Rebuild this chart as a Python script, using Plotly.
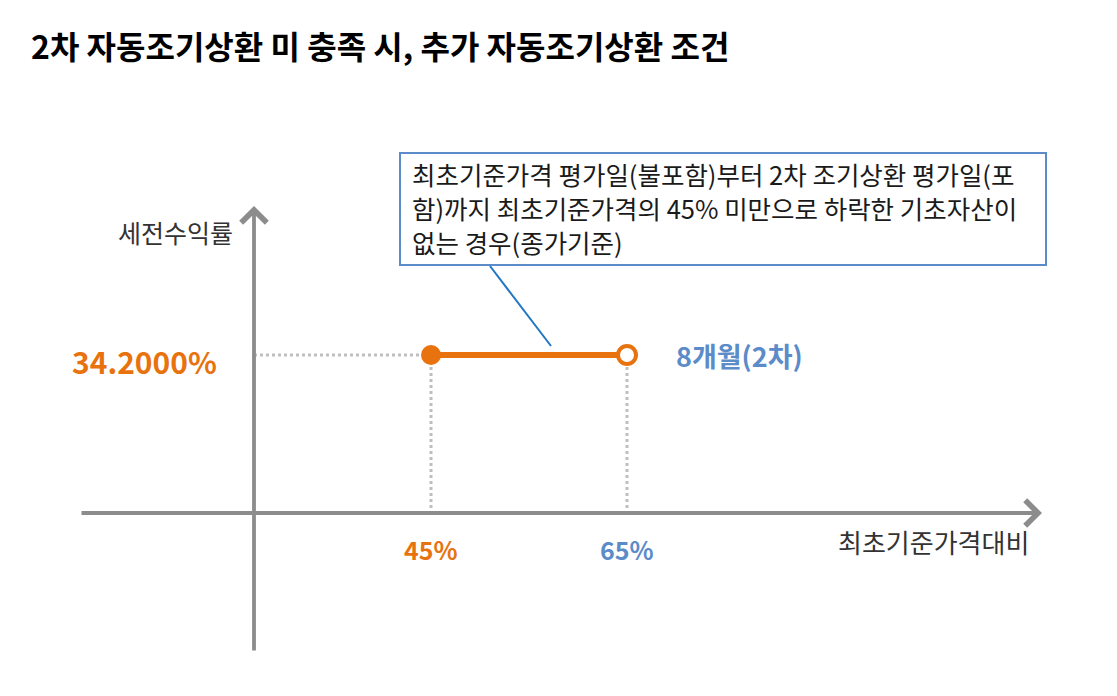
import plotly.graph_objects as go

# chart values
barrier_levels = [45, 65]          # % of initial reference price
barrier_labels = ["45%", "65%"]
coupon_rate = 34.2                 # pre-tax return (%)
coupon_label = "34.2000%"
period_label = "8개월(2차)"
title_text = "2차 자동조기상환 미 충족 시, 추가 자동조기상환 조건"
y_axis_title = "세전수익률"
x_axis_title = "최초기준가격대비"
note_lines = [
    "최초기준가격 평가일(불포함)부터 2차 조기상환 평가일(포",
    "함)까지 최초기준가격의 45% 미만으로 하락한 기초자산이",
    "없는 경우(종가기준)",
]

FONT = "Noto Sans CJK KR"
ORANGE = "#E8730E"
BLUE = "#5B8BC9"
GRAY = "#8C8C8C"
DOT_GRAY = "#BFBFBF"
W, H = 1117, 696
PAGE_PAD = 8                       # default body margin of the html page
FW, FH = W - 2 * PAGE_PAD, H - 2 * PAGE_PAD

# schematic scale: page-pixel layout of the diagram
X_PX_PER_UNIT = 9.8
Y_PX_PER_UNIT = 4.62
X_REF_PX, Y_ZERO_PX = 431, 513


def dx(px):
    return barrier_levels[0] + (px - X_REF_PX) / X_PX_PER_UNIT


def dy(py):
    return (Y_ZERO_PX - py) / Y_PX_PER_UNIT


x_origin = dx(254)

fig = go.Figure()

# dotted guides
fig.add_trace(go.Scatter(
    x=[x_origin, barrier_levels[0]], y=[coupon_rate, coupon_rate],
    mode="lines", line=dict(color=DOT_GRAY, width=3, dash="dot"), hoverinfo="skip"))
for lvl in barrier_levels:
    fig.add_trace(go.Scatter(
        x=[lvl, lvl], y=[coupon_rate, 0],
        mode="lines", line=dict(color=DOT_GRAY, width=3, dash="dot"), hoverinfo="skip"))

# payoff segment
fig.add_trace(go.Scatter(
    x=barrier_levels, y=[coupon_rate, coupon_rate],
    mode="lines", line=dict(color=ORANGE, width=6), hoverinfo="skip"))
fig.add_trace(go.Scatter(
    x=barrier_levels, y=[coupon_rate, coupon_rate], mode="markers",
    marker=dict(size=[20, 18], color=[ORANGE, "white"], opacity=1,
                line=dict(color=ORANGE, width=[0, 4])),
    hoverinfo="skip"))

# axes with arrows
fig.add_annotation(x=x_origin, y=dy(206), ax=x_origin, ay=dy(652),
                   xref="x", yref="y", axref="x", ayref="y", text="",
                   showarrow=True, arrowhead=4, arrowsize=1.3, arrowwidth=3.8, arrowcolor=GRAY)
fig.add_annotation(x=dx(1042), y=0, ax=dx(80), ay=0,
                   xref="x", yref="y", axref="x", ayref="y", text="",
                   showarrow=True, arrowhead=4, arrowsize=1.3, arrowwidth=3.8, arrowcolor=GRAY)

# note box and callout
fig.add_shape(type="rect", x0=dx(400), x1=dx(1046), y0=dy(265), y1=dy(153),
              line=dict(color=BLUE, width=2), fillcolor="white", layer="below")
fig.add_shape(type="line", x0=dx(490), y0=dy(266), x1=dx(551), y1=dy(346),
              line=dict(color="#1F77C4", width=2))
for i, line in enumerate(note_lines):
    fig.add_annotation(x=dx(410), y=dy(173 + 34 * i), text=line, showarrow=False,
                       xanchor="left", yanchor="middle",
                       font=dict(family=FONT, size=25.5, color="#1A1A1A"))

# labels
fig.add_annotation(x=dx(219), y=coupon_rate, yshift=-6, text="<b>%s</b>" % coupon_label,
                   showarrow=False, xanchor="right", yanchor="middle",
                   font=dict(family=FONT, size=30, color=ORANGE))
fig.add_annotation(x=barrier_levels[1], y=coupon_rate, xshift=47, text="<b>%s</b>" % period_label,
                   showarrow=False, xanchor="left", yanchor="middle",
                   font=dict(family=FONT, size=27, color=BLUE))
for lvl, lab, col in zip(barrier_levels, barrier_labels, [ORANGE, BLUE]):
    fig.add_annotation(x=lvl, y=0, yshift=-36, text="<b>%s</b>" % lab, showarrow=False,
                       xanchor="center", yanchor="middle",
                       font=dict(family=FONT, size=25, color=col))
fig.add_annotation(x=dx(235), y=dy(232), text=y_axis_title, showarrow=False,
                   xanchor="right", yanchor="middle",
                   font=dict(family=FONT, size=25, color="#333333"))
fig.add_annotation(x=dx(1031), y=dy(541), text=x_axis_title, showarrow=False,
                   xanchor="right", yanchor="middle",
                   font=dict(family=FONT, size=26, color="#333333"))
fig.add_annotation(x=(29 - PAGE_PAD) / FW, y=1 - (45 - PAGE_PAD) / FH, xref="paper", yref="paper",
                   text="<b>%s</b>" % title_text,
                   showarrow=False, xanchor="left", yanchor="middle",
                   font=dict(family=FONT, size=32, color="black"))

fig.update_xaxes(range=[dx(PAGE_PAD), dx(PAGE_PAD + FW)], visible=False, fixedrange=True)
fig.update_yaxes(range=[dy(PAGE_PAD + FH), dy(PAGE_PAD)], visible=False, fixedrange=True)
fig.update_layout(width=FW, height=FH, margin=dict(l=0, r=0, t=0, b=0),
                  showlegend=False, plot_bgcolor="white", paper_bgcolor="white")

fig.write_html("out.html")
